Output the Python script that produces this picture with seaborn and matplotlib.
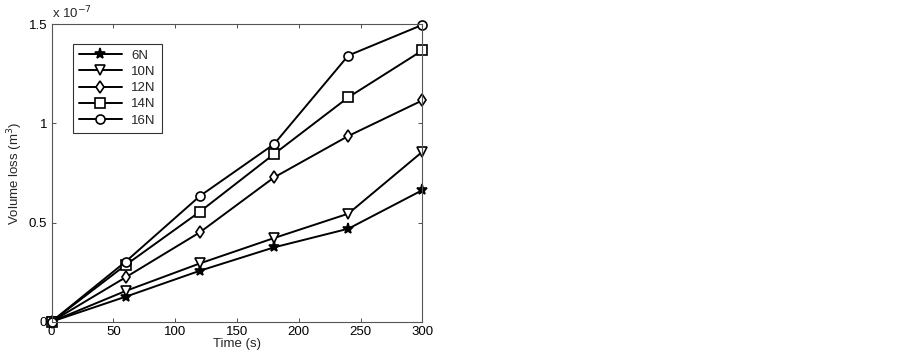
import matplotlib
matplotlib.use("Agg")
import matplotlib.pyplot as plt
import seaborn as sns
import pandas as pd

sns.set_style("ticks")
plt.rcParams['font.family'] = ['Liberation Sans', 'DejaVu Sans']

time_s = [0, 60, 120, 180, 240, 300]
loss_6N = [0, 0.126, 0.257, 0.375, 0.469, 0.664]
loss_10N = [0, 0.155, 0.294, 0.422, 0.545, 0.858]
loss_12N = [0, 0.224, 0.451, 0.728, 0.937, 1.117]
loss_14N = [0, 0.286, 0.555, 0.846, 1.132, 1.369]
loss_16N = [0, 0.303, 0.634, 0.896, 1.343, 1.498]
labels = ["6N", "10N", "12N", "14N", "16N"]
series = [loss_6N, loss_10N, loss_12N, loss_14N, loss_16N]
markers = ["*", "v", "d", "s", "o"]
msizes = [8, 7, 6, 6.5, 6.5]

fs = 9.5
fig = plt.figure(figsize=(9.02, 3.59), dpi=100)
ax = fig.add_axes([0.0571, 0.104, 0.4113, 0.828])

for lab, vals, m, ms in zip(labels, series, markers, msizes):
    df = pd.DataFrame({"t": time_s, "v": vals})
    filled = (m == "*")
    sns.lineplot(data=df, x="t", y="v", ax=ax, color="black", linewidth=1.4,
                 marker=m, markersize=ms, markeredgewidth=1.2,
                 markerfacecolor="black" if filled else "white",
                 markeredgecolor="black", label=lab, clip_on=False)

ax.set_xlim(0, 300)
ax.set_ylim(0, 1.5)
ax.set_xticks([0, 50, 100, 150, 200, 250, 300])
ax.set_yticks([0, 0.5, 1.0, 1.5])
ax.set_yticklabels(["0", "0.5", "1", "1.5"])
ax.tick_params(direction="in", top=True, right=True, labelsize=fs, length=3, width=0.6, pad=3,
               colors="#333333", labelcolor="black")
for s in ax.spines.values():
    s.set_linewidth(0.8)
    s.set_color("#555555")
ax.set_xlabel("Time (s)", fontsize=fs, labelpad=0)
ax.set_ylabel("Volume loss (m$^3$)", fontsize=fs, labelpad=3)
ax.text(0.0, 1.01, "x 10$^{-7}$", transform=ax.transAxes, fontsize=fs, ha="left", va="bottom")

leg = ax.legend(loc="upper left", bbox_to_anchor=(0.057, 0.935), fontsize=fs,
                handlelength=3.3, frameon=True, fancybox=False, edgecolor="black",
                borderpad=0.45, labelspacing=0.3, handletextpad=0.7, borderaxespad=0)
leg.get_frame().set_linewidth(0.8)

fig.savefig("out.png", dpi=100, facecolor="white")
